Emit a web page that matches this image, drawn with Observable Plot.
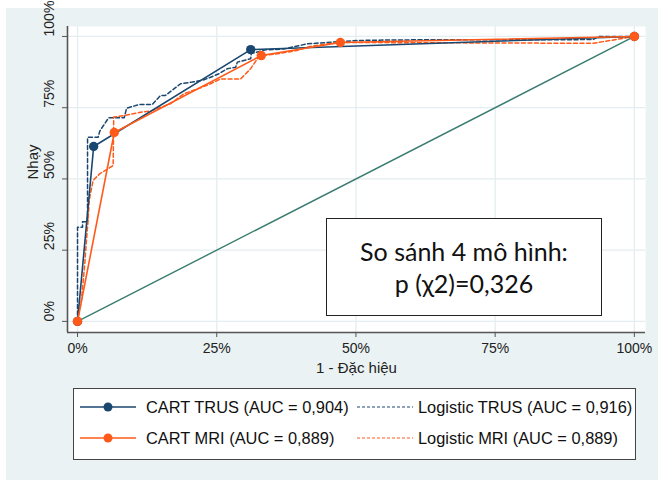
<!DOCTYPE html>
<html><head><meta charset="utf-8">
<script src="https://cdn.jsdelivr.net/npm/d3@7"></script>
<script src="https://cdn.jsdelivr.net/npm/@observablehq/plot@0.6"></script>
<style>
body{margin:0;background:#fff;font-family:"Liberation Sans",Arial,sans-serif}
#wrap{position:relative;width:658px;height:480px;overflow:hidden}
#bg{position:absolute;left:6px;top:8px;right:0;bottom:0;background:#eaf2f3}
#plot{position:absolute;left:0;top:0}
#legend{position:absolute;left:73px;top:388px;width:563px;height:72px;background:#fff;border:1px solid #444;box-sizing:border-box}
.item{position:absolute;height:20px;display:flex;align-items:center;font-size:16.4px;color:#111;white-space:nowrap}
.item svg{margin-right:10px}
#note{position:absolute;left:326px;top:218px;width:276px;height:98px;background:#fff;border:1px solid #222;box-sizing:border-box;font-family:Lato,"Open Sans",sans-serif;font-size:25px;color:#111;text-align:center;line-height:32px;padding-top:16px}
</style></head>
<body>
<div id="wrap"><div id="bg"></div><div id="plot"></div><div id="note"></div><div id="legend"></div></div>
<script>
// ---- data ----
const seriesNames = ["CART TRUS (AUC = 0,904)", "CART MRI (AUC = 0,889)", "Logistic TRUS (AUC = 0,916)", "Logistic MRI (AUC = 0,889)"];
const seriesColors = ["#1a476f", "#ff5a1a", "#1a476f", "#ff5a1a"];
const axisTicks = [0, 25, 50, 75, 100];
const xTitle = "1 - Đặc hiệu";
const yTitle = "Nhạy";
const noteLines = ["So sánh 4 mô hình:", "p (χ2)=0,326"];

const cartTrusFpr = [0, 2.9, 31.1, 100];
const cartTrusTpr = [0, 61.4, 95.4, 100];
const cartMriFpr = [0, 6.6, 33.0, 47.2, 100];
const cartMriTpr = [0, 66.3, 93.3, 97.9, 100];
const logTrusFpr = [0, 0, 0.9, 0.9, 1.8, 1.8, 3.7, 4.0, 5.6, 8.4, 8.8, 11.0, 13.4, 14.9, 15.8, 18.5, 20.6, 22.7, 23.9, 25.4, 26.9, 28.4, 28.7, 31.1, 31.2, 33.8, 37.0, 41.2, 50.2, 58.0, 92.6, 93.5, 100];
const logTrusTpr = [0, 33.0, 33.0, 35.0, 35.0, 64.6, 64.6, 66.8, 71.5, 71.5, 74.8, 76.1, 76.1, 79.3, 79.3, 83.4, 84.0, 84.8, 85.7, 86.9, 88.7, 89.2, 91.0, 92.2, 94.0, 95.3, 95.6, 97.4, 98.6, 98.8, 98.9, 100, 100];
const logMriFpr = [0, 0.7, 1.3, 1.6, 1.9, 2.1, 2.8, 4.0, 5.5, 6.4, 6.5, 8.5, 11.3, 13.1, 16.7, 19.1, 22.4, 23.9, 25.7, 29.3, 31.1, 32.3, 32.9, 35.9, 39.4, 41.8, 44.8, 47.2, 92.6, 100];
const logMriTpr = [0, 7.4, 20.2, 28.4, 35.4, 42.5, 49.5, 51.8, 53.6, 54.7, 71.7, 72.3, 73.4, 73.8, 76.4, 79.9, 82.2, 83.4, 85.1, 85.1, 88.7, 92.2, 93.3, 93.9, 95.1, 96.5, 97.4, 97.9, 97.6, 100];
const refFpr = [0, 100];
const refTpr = [0, 100];

// ---- build tables ----
function rows(name, xs, ys) { return xs.map((x, i) => ({series: name, fpr: x, tpr: ys[i]})); }
const cart = [...rows(seriesNames[0], cartTrusFpr, cartTrusTpr), ...rows(seriesNames[1], cartMriFpr, cartMriTpr)];
const logi = [...rows(seriesNames[2], logTrusFpr, logTrusTpr), ...rows(seriesNames[3], logMriFpr, logMriTpr)];
const ref = rows("ref", refFpr, refTpr);
const colorScale = {domain: seriesNames, range: seriesColors};

const xDom = [-1.8, 102], yDom = [-3.9, 103.5];
const axisCol = "#555";
const gridCol = "#e4edef";

const chart = Plot.plot({
  width: 658, height: 382,
  marginLeft: 67, marginRight: 13, marginTop: 26, marginBottom: 50,
  style: {background: "transparent", fontFamily: "'Liberation Sans', Arial, sans-serif", fontSize: "14px", color: "#222"},
  x: {domain: xDom, label: null},
  y: {domain: yDom, label: null},
  color: colorScale,
  marks: [
    Plot.frame({fill: "white", stroke: null}),
    Plot.gridX(axisTicks, {stroke: gridCol, strokeOpacity: 1, strokeWidth: 1.3}),
    Plot.gridY(axisTicks, {stroke: gridCol, strokeOpacity: 1, strokeWidth: 1.3}),
    Plot.axisX(axisTicks, {tickFormat: d => d + "%", tickSize: 5, tickPadding: 6, stroke: axisCol, fontSize: 14, label: null}),
    Plot.axisY(axisTicks, {tickFormat: () => "", tickSize: 5, stroke: axisCol, label: null}),
    Plot.text(axisTicks, {y: d => d, frameAnchor: "left", text: d => d + "%", rotate: -90, dx: -18, fontSize: 14, fill: "#222"}),
    Plot.ruleX([xDom[0]], {stroke: axisCol, strokeWidth: 1.6}),
    Plot.ruleY([yDom[0]], {stroke: axisCol, strokeWidth: 1.6}),
    Plot.text([xTitle], {frameAnchor: "bottom", dy: 40, fontSize: 15, fill: "#222"}),
    Plot.text([yTitle], {frameAnchor: "left", rotate: -90, dx: -34, fontSize: 15, fill: "#222"}),
    Plot.line(ref, {x: "fpr", y: "tpr", stroke: "#3a7d70", strokeWidth: 1.4}),
    Plot.line(logi, {x: "fpr", y: "tpr", z: "series", stroke: "series", strokeWidth: 1.5, strokeDasharray: "4,2.5"}),
    Plot.line(cart, {x: "fpr", y: "tpr", z: "series", stroke: "series", strokeWidth: 1.6}),
    Plot.dot(cart, {x: "fpr", y: "tpr", fill: "series", r: 4.7})
  ]
});
document.getElementById("plot").appendChild(chart);

// ---- note box ----
document.getElementById("note").innerHTML = noteLines.map(s => `<div>${s}</div>`).join("");

// ---- legend ----
const legend = document.getElementById("legend");
const pos = [[6, 8], [6, 39], [283, 8], [283, 39]];
seriesNames.forEach((name, i) => {
  const div = document.createElement("div");
  div.className = "item";
  div.style.left = pos[i][0] + "px";
  div.style.top = pos[i][1] + "px";
  const c = seriesColors[i];
  const dashed = i >= 2;
  const sample = dashed
    ? `<svg width="56" height="20"><line x1="0" y1="10" x2="56" y2="10" stroke="${c}" stroke-width="1.2" stroke-dasharray="3,2"/></svg>`
    : `<svg width="56" height="20"><line x1="0" y1="10" x2="56" y2="10" stroke="${c}" stroke-width="1.6"/><circle cx="28" cy="10" r="4.5" fill="${c}"/></svg>`;
  div.innerHTML = sample + `<span style="margin-left:${dashed ? -5 : 0}px">${name}</span>`;
  legend.appendChild(div);
});
</script>
</body></html>
